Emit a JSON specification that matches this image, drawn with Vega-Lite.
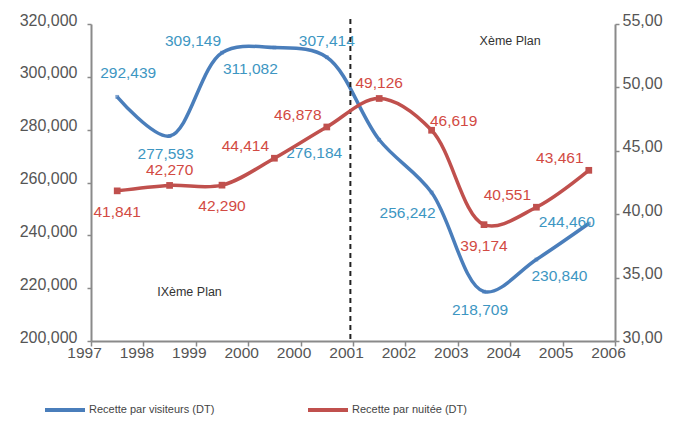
{
  "$schema": "https://vega.github.io/schema/vega-lite/v6.json",
  "width": 524,
  "height": 317,
  "autosize": {"type": "none"},
  "padding": {"left": 91, "top": 24, "right": 65, "bottom": 82},
  "background": "white",
  "config": {
    "view": {"stroke": null},
    "font": "Liberation Sans",
    "axis": {"grid": false, "domainColor": "#8a8a8a", "domainWidth": 2, "tickColor": "#8a8a8a", "tickWidth": 1.5, "labelColor": "#555555", "labelFont": "Liberation Sans", "labelFontSize": 16, "labelOverlap": false, "labelFlush": false},
    "axisX": {"labelOffset": -7, "labelFontSize": 15.5},
    "axisY": {"labelOffset": -4}
  },
  "datasets": {
    "visit": [
      {"t": 0.5, "value": 292439, "pos": "NE"},
      {"t": 1.5, "value": 277593, "pos": "S"},
      {"t": 2.5, "value": 309149, "pos": "NW"},
      {"t": 3.5, "value": 311082, "pos": "SW"},
      {"t": 4.5, "value": 307414, "pos": "N"},
      {"t": 5.5, "value": 276184, "pos": "WW"},
      {"t": 6.5, "value": 256242, "pos": "SW"},
      {"t": 7.5, "value": 218709, "pos": "S"},
      {"t": 8.5, "value": 230840, "pos": "SE"},
      {"t": 9.5, "value": 244460, "pos": "W"}
    ],
    "nuit": [
      {"t": 0.5, "value": 41.841, "pos": "S"},
      {"t": 1.5, "value": 42.27, "pos": "N"},
      {"t": 2.5, "value": 42.29, "pos": "S"},
      {"t": 3.5, "value": 44.414, "pos": "NW"},
      {"t": 4.5, "value": 46.878, "pos": "NW"},
      {"t": 5.5, "value": 49.126, "pos": "N"},
      {"t": 6.5, "value": 46.619, "pos": "E"},
      {"t": 7.5, "value": 39.174, "pos": "S"},
      {"t": 8.5, "value": 40.551, "pos": "NW"},
      {"t": 9.5, "value": 43.461, "pos": "NW"}
    ]
  },
  "layer": [
    {
      "data": {"name": "visit"},
      "transform": [{"calculate": "format(datum.value, ',')", "as": "lbl"}],
      "encoding": {
        "x": {"field": "t", "type": "quantitative", "title": null,
          "scale": {"domain": [0, 10], "nice": false, "zero": false},
          "axis": {"values": [0,1,2,3,4,5,6,7,8,9,10], "tickSize": 5, "labelPadding": -1,
            "labelExpr": "['1997','1998','1999','2000','2000','2001','2002','2003','2004','2005','2006'][datum.value]"}},
        "y": {"field": "value", "type": "quantitative", "title": null,
          "scale": {"domain": [200000, 320000], "nice": false, "zero": false},
          "axis": {"orient": "left", "values": [200000,220000,240000,260000,280000,300000,320000], "format": ",.0f", "tickSize": 4, "labelPadding": 10}}
      },
      "layer": [
        {"mark": {"type": "line", "interpolate": "catmull-rom", "strokeWidth": 3.5},
         "encoding": {"color": {"datum": "Recette par visiteurs (DT)", "type": "nominal",
           "scale": {"domain": ["Recette par visiteurs (DT)", "Recette par nuitée (DT)"], "range": ["#4a7ebb", "#c0504d"]},
           "legend": {"orient": "none", "legendX": -48, "legendY": 364, "direction": "horizontal", "title": null,
             "symbolType": "stroke", "symbolStrokeWidth": 4, "symbolSize": 1600, "columnPadding": 85,
             "labelFont": "Liberation Sans", "labelFontSize": 11, "labelColor": "#444444", "labelOffset": 2}}}},
        {"mark": {"type": "point", "shape": "square", "filled": true, "size": 14, "color": "#4a7ebb"}},
        {"transform": [{"filter": "datum.pos == 'N'"}], "mark": {"type": "text", "dy": -16, "fontSize": 15.5, "color": "#3d96c2"}, "encoding": {"text": {"field": "lbl"}}},
        {"transform": [{"filter": "datum.pos == 'S'"}], "mark": {"type": "text", "dx": -4, "dy": 18, "fontSize": 15.5, "color": "#3d96c2"}, "encoding": {"text": {"field": "lbl"}}},
        {"transform": [{"filter": "datum.pos == 'NW'"}], "mark": {"type": "text", "dx": -29, "dy": -12, "fontSize": 15.5, "color": "#3d96c2"}, "encoding": {"text": {"field": "lbl"}}},
        {"transform": [{"filter": "datum.pos == 'SW'"}], "mark": {"type": "text", "dx": -24, "dy": 21, "fontSize": 15.5, "color": "#3d96c2"}, "encoding": {"text": {"field": "lbl"}}},
        {"transform": [{"filter": "datum.pos == 'NE'"}], "mark": {"type": "text", "dx": 11, "dy": -24, "fontSize": 15.5, "color": "#3d96c2"}, "encoding": {"text": {"field": "lbl"}}},
        {"transform": [{"filter": "datum.pos == 'SE'"}], "mark": {"type": "text", "dx": 23, "dy": 16, "fontSize": 15.5, "color": "#3d96c2"}, "encoding": {"text": {"field": "lbl"}}},
        {"transform": [{"filter": "datum.pos == 'W'"}], "mark": {"type": "text", "dx": -22, "dy": -2, "fontSize": 15.5, "color": "#3d96c2"}, "encoding": {"text": {"field": "lbl"}}},
        {"transform": [{"filter": "datum.pos == 'WW'"}], "mark": {"type": "text", "dx": -65, "dy": 13, "fontSize": 15.5, "color": "#3d96c2"}, "encoding": {"text": {"field": "lbl"}}},
        {"data": {"values": [{"t": 4.95}]},
         "mark": {"type": "rule", "strokeDash": [5, 4], "strokeWidth": 2, "color": "#222222", "y": -5, "y2": 317},
         "encoding": {"x": {"field": "t", "type": "quantitative"}, "y": null}},
        {"data": {"values": [{"t": 1.88, "value": 218400, "note": "IXème Plan"}, {"t": 8.0, "value": 313600, "note": "Xème Plan"}]},
         "mark": {"type": "text", "fontSize": 12.5, "color": "#333333"},
         "encoding": {"text": {"field": "note"}}}
      ]
    },
    {
      "data": {"name": "nuit"},
      "transform": [{"calculate": "replace(format(datum.value, '.3f'), '.', ',')", "as": "lbl"}],
      "encoding": {
        "x": {"field": "t", "type": "quantitative", "title": null, "scale": {"domain": [0, 10], "nice": false, "zero": false}},
        "y": {"field": "value", "type": "quantitative", "title": null,
          "scale": {"domain": [30, 55], "nice": false, "zero": false},
          "axis": {"orient": "right", "values": [30,35,40,45,50,55], "tickSize": 4, "labelPadding": 3,
            "labelExpr": "replace(format(datum.value, '.2f'), '.', ',')"}}
      },
      "layer": [
        {"mark": {"type": "line", "interpolate": "catmull-rom", "strokeWidth": 3.5},
         "encoding": {"color": {"datum": "Recette par nuitée (DT)", "type": "nominal"}}},
        {"mark": {"type": "point", "shape": "square", "filled": true, "size": 45, "color": "#c0504d", "opacity": 1}},
        {"transform": [{"filter": "datum.pos == 'N'"}], "mark": {"type": "text", "dy": -15, "fontSize": 15.5, "color": "#d24a43"}, "encoding": {"text": {"field": "lbl"}}},
        {"transform": [{"filter": "datum.pos == 'S'"}], "mark": {"type": "text", "dy": 21, "fontSize": 15.5, "color": "#d24a43"}, "encoding": {"text": {"field": "lbl"}}},
        {"transform": [{"filter": "datum.pos == 'NW'"}], "mark": {"type": "text", "dx": -29, "dy": -12, "fontSize": 15.5, "color": "#d24a43"}, "encoding": {"text": {"field": "lbl"}}},
        {"transform": [{"filter": "datum.pos == 'E'"}], "mark": {"type": "text", "dx": 22, "dy": -9, "fontSize": 15.5, "color": "#d24a43"}, "encoding": {"text": {"field": "lbl"}}}
      ]
    }
  ],
  "resolve": {"scale": {"y": "independent"}, "axis": {"y": "independent"}}
}
